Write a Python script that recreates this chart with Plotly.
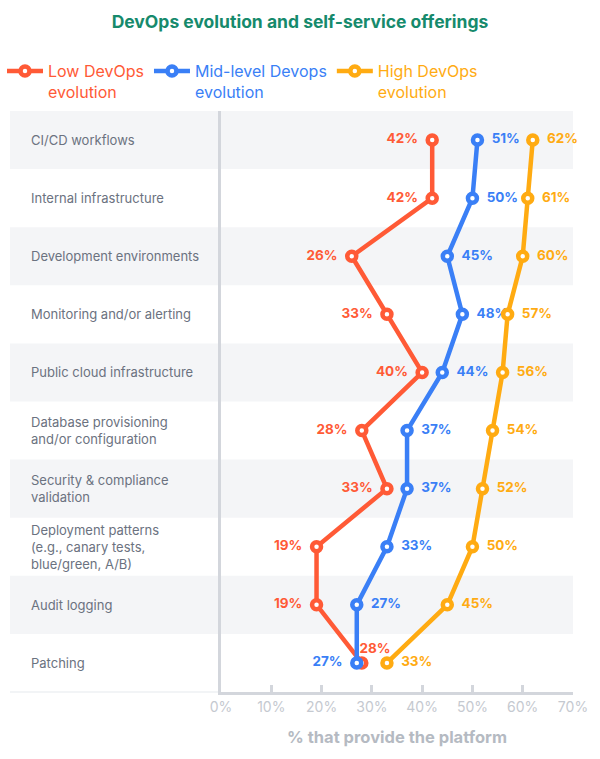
import plotly.graph_objects as go

categories = [
    "CI/CD workflows",
    "Internal infrastructure",
    "Development environments",
    "Monitoring and/or alerting",
    "Public cloud infrastructure",
    "Database provisioning<br>and/or configuration",
    "Security & compliance<br>validation",
    "Deployment patterns<br>(e.g., canary tests,<br>blue/green, A/B)",
    "Audit logging",
    "Patching",
]
low = [42, 42, 26, 33, 40, 28, 33, 19, 19, 28]
mid = [51, 50, 45, 48, 44, 37, 37, 33, 27, 27]
high = [62, 61, 60, 57, 56, 54, 52, 50, 45, 33]
series_names = ["Low DevOps<br>evolution", "Mid-level Devops<br>evolution", "High DevOps<br>evolution"]
x_ticks = [0, 10, 20, 30, 40, 50, 60, 70]

RED = "#ff5a36"
BLUE = "#3a7ff6"
YEL = "#ffab12"
FONT = "Inter"
NB = "\u00a0"

W, H = 600, 759
L, R, T, B = 221, 27, 111, 67
pw = W - L - R
ph = H - T - B

def px_x(p):
    return (p - L) / pw

def px_y(p):
    return (H - B - p) / ph

rows = list(range(len(categories)))

def label(v, pos):
    t = f"<b>{v}%</b>"
    if pos == "middle left":
        return t + NB * 2
    if pos == "middle right":
        return NB * 2 + t
    if pos == "top center":
        return NB * 7 + t
    return t

fig = go.Figure()

low_pos = ["middle left"] * len(low)
low_pos[-1] = "top center"
mid_pos = ["middle right"] * len(mid)
mid_pos[-1] = "middle left"
high_pos = ["middle right"] * len(high)

for vals, name, color, pos in [
    (low, series_names[0], RED, low_pos),
    (mid, series_names[1], BLUE, mid_pos),
    (high, series_names[2], YEL, high_pos),
]:
    fig.add_trace(go.Scatter(
        x=vals, y=rows, mode="lines+markers+text",
        name=f"<span style='color:{color}'>{name}</span>",
        line=dict(color=color, width=4.5),
        marker=dict(size=9, color="white", line=dict(color=color, width=4.5)),
        text=[label(v, p) for v, p in zip(vals, pos)],
        textposition=pos,
        textfont=dict(color=color, size=13.5, family=FONT),
        cliponaxis=False,
        hoverinfo="skip",
    ))

shapes = []
n = len(categories)
for i in range(n):
    if i % 2 == 0:
        shapes.append(dict(
            type="rect", xref="paper", yref="paper",
            x0=px_x(10), x1=1, y0=1 - (i + 1) / n, y1=1 - i / n,
            fillcolor="#f4f5f7", line=dict(width=0), layer="below",
        ))
shapes.append(dict(type="line", xref="paper", yref="paper",
                   x0=px_x(10), x1=0, y0=0, y1=0,
                   line=dict(color="#eef0f3", width=1.5), layer="below"))

annotations = []
for i, c in enumerate(categories):
    annotations.append(dict(
        x=px_x(29), xref="paper", y=i, yref="y", text=c,
        showarrow=False, xanchor="left", yanchor="middle", align="left",
        font=dict(size=13, color="#6b7280", family=FONT),
    ))

fig.update_layout(
    width=W, height=H,
    margin=dict(l=L, r=R, t=T, b=B, autoexpand=False),
    paper_bgcolor="white",
    plot_bgcolor="rgba(0,0,0,0)",
    title=dict(
        text="<b>DevOps evolution and self-service offerings</b>",
        x=0.5, xref="container", xanchor="center",
        y=1 - 22 / H, yref="container", yanchor="middle",
        font=dict(size=17.5, color="#168a6c", family=FONT),
    ),
    showlegend=True,
    legend=dict(
        orientation="h", x=px_x(2), xanchor="left",
        y=px_y(54), yanchor="top", valign="top",
        font=dict(size=16, family=FONT), bgcolor="rgba(0,0,0,0)",
        itemclick=False, itemwidth=36,
    ),
    xaxis=dict(
        range=[0, 70], tickvals=x_ticks, ticktext=[f"{t}%" for t in x_ticks],
        showgrid=False, zeroline=False,
        showline=True, linecolor="#d3d6dc", linewidth=3,
        ticks="inside", ticklen=7, tickwidth=3, tickcolor="#d3d6dc",
        tickfont=dict(size=14, color="#c5c9d0", family=FONT),
        title=dict(text="<b>% that provide the platform</b>",
                   font=dict(size=16.5, color="#b5bac2", family=FONT), standoff=18),
        fixedrange=True,
    ),
    yaxis=dict(
        range=[n - 0.5, -0.5], showticklabels=False, showgrid=False,
        zeroline=False, showline=True, linecolor="#d3d6dc", linewidth=3,
        ticks="", fixedrange=True,
    ),
    shapes=shapes,
    annotations=annotations,
)

fig.write_html("out.html")
